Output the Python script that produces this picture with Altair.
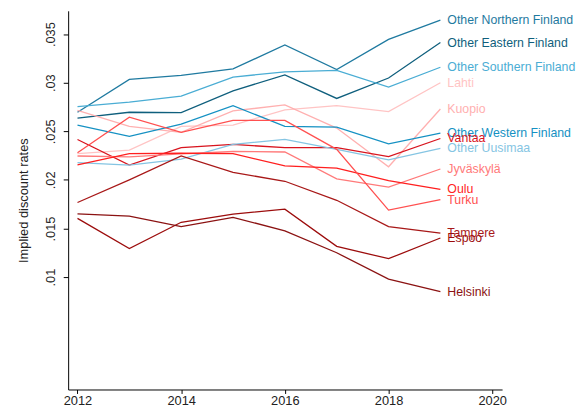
import altair as alt
import pandas as pd

years = [2012, 2013, 2014, 2015, 2016, 2017, 2018, 2019]

regions = ["Other Northern Finland", "Other Eastern Finland", "Other Southern Finland",
           "Lahti", "Kuopio", "Other Western Finland", "Vantaa", "Other Uusimaa",
           "Jyväskylä", "Oulu", "Turku", "Tampere", "Espoo", "Helsinki"]

other_northern = [0.02696, 0.03034, 0.03075, 0.03142, 0.03389, 0.03136, 0.03446, 0.03643]
other_eastern = [0.02635, 0.02696, 0.02693, 0.02916, 0.03081, 0.02838, 0.03048, 0.03413]
other_southern = [0.02754, 0.02801, 0.02862, 0.03058, 0.03112, 0.03126, 0.02956, 0.03159]
lahti = [0.02270, 0.02307, 0.02551, 0.02564, 0.02720, 0.02764, 0.02703, 0.03000]
kuopio = [0.02716, 0.02551, 0.02490, 0.02710, 0.02771, 0.02533, 0.02135, 0.02730]
other_western = [0.02564, 0.02449, 0.02574, 0.02764, 0.02551, 0.02544, 0.02371, 0.02480]
vantaa = [0.02416, 0.02152, 0.02331, 0.02365, 0.02331, 0.02331, 0.02239, 0.02426]
other_uusimaa = [0.02178, 0.02152, 0.02213, 0.02365, 0.02416, 0.02314, 0.02206, 0.02324]
jyvaskyla = [0.02246, 0.02236, 0.02267, 0.02292, 0.02287, 0.02010, 0.01925, 0.02112]
oulu = [0.02155, 0.02270, 0.02274, 0.02270, 0.02145, 0.02122, 0.01993, 0.01902]
turku = [0.02280, 0.02645, 0.02490, 0.02612, 0.02612, 0.02314, 0.01689, 0.01797]
tampere = [0.01767, 0.02000, 0.02246, 0.02077, 0.01986, 0.01790, 0.01519, 0.01452]
espoo = [0.01604, 0.01293, 0.01564, 0.01648, 0.01699, 0.01316, 0.01189, 0.01402]
helsinki = [0.01651, 0.01628, 0.01519, 0.01615, 0.01476, 0.01250, 0.00979, 0.00850]

series = [other_northern, other_eastern, other_southern, lahti, kuopio, other_western,
          vantaa, other_uusimaa, jyvaskyla, oulu, turku, tampere, espoo, helsinki]

colors = ["#1f7aa0", "#0f5f7d", "#4aadd4", "#ffc4c4", "#ffb0b0", "#1591c3",
          "#d8141e", "#85c5e3", "#ff7a7a", "#ff1f1f", "#ff5050", "#a81818",
          "#9c0c0c", "#8b1212"]

y_ticks = [0.01, 0.015, 0.02, 0.025, 0.03, 0.035]
x_ticks = [2012, 2014, 2016, 2018, 2020]

rows = []
for name, vals in zip(regions, series):
    for yr, v in zip(years, vals):
        rows.append({"region": name, "year": yr, "rate": v})
df = pd.DataFrame(rows)

FONT = "Liberation Sans"

x_enc = alt.X("year:Q",
              scale=alt.Scale(domain=[2011.82, 2020.19], nice=False, zero=False),
              axis=alt.Axis(values=x_ticks, format="d", title=None, grid=False,
                            domainColor="black", tickColor="black", tickSize=4,
                            labelFontSize=13, labelColor="#222", labelPadding=1,
                            labelFont=FONT))
y_enc = alt.Y("rate:Q",
              scale=alt.Scale(domain=[-0.00157, 0.0374], nice=False, zero=False),
              axis=alt.Axis(values=y_ticks, title="Implied discount rates", grid=False,
                            labelExpr="substring(format(datum.value, '.3~f'), 1)",
                            labelAngle=270, labelAlign="center", labelBaseline="bottom",
                            labelPadding=6, labelFontSize=13, labelColor="#222",
                            labelFont=FONT, titleFont=FONT, titleFontSize=13,
                            titleFontWeight="normal", titleColor="#222",
                            titlePadding=14,
                            domainColor="black", tickColor="black", tickSize=5))
color_enc = alt.Color("region:N", scale=alt.Scale(domain=regions, range=colors),
                      legend=None)

lines = alt.Chart(df).mark_line(strokeWidth=1.3).encode(
    x=x_enc, y=y_enc, color=color_enc, detail="region:N")

labels = alt.Chart(df).transform_filter(alt.datum.year == 2019).mark_text(
    align="left", baseline="middle", dx=7, fontSize=12.5, font=FONT
).encode(x="year:Q", y="rate:Q", text="region:N", color=color_enc)

chart = alt.layer(lines, labels).properties(
    width=440, height=384,
    autosize="none",
    padding={"left": 61, "top": 0, "right": 79, "bottom": 22},
).configure_view(stroke=None)

chart.save("out.html", embed_options={"renderer": "svg", "actions": False})
